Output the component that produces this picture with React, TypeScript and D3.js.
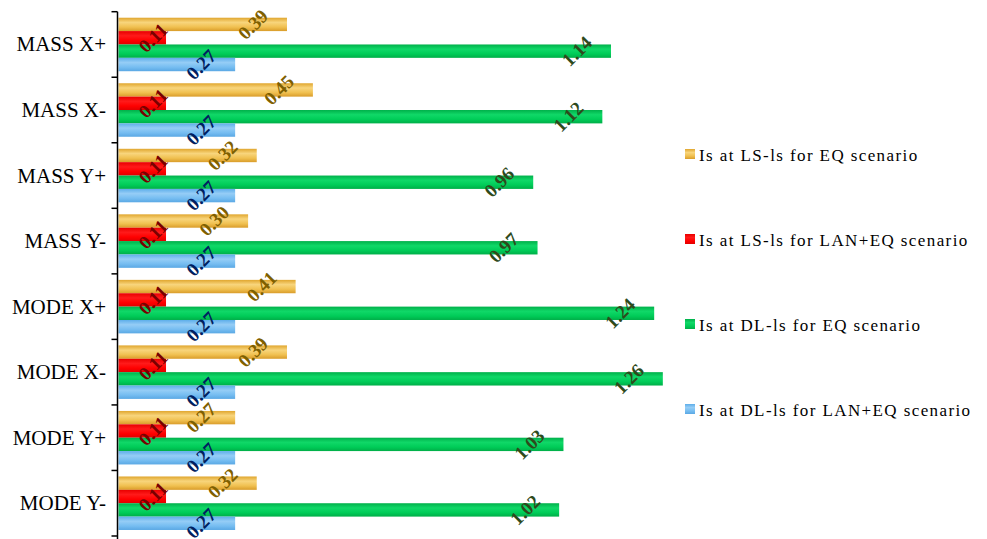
import React from "react";
import * as d3 from "d3";

const categories = ["MASS X+", "MASS X-", "MASS Y+", "MASS Y-", "MODE X+", "MODE X-", "MODE Y+", "MODE Y-"];
const seriesNames = [
  "Is at LS-ls for EQ scenario",
  "Is at LS-ls for LAN+EQ scenario",
  "Is at DL-ls for EQ scenario",
  "Is at DL-ls for LAN+EQ scenario",
];
const lsEQ = [0.39, 0.45, 0.32, 0.30, 0.41, 0.39, 0.27, 0.32];
const lsLanEQ = [0.11, 0.11, 0.11, 0.11, 0.11, 0.11, 0.11, 0.11];
const dlEQ = [1.14, 1.12, 0.96, 0.97, 1.24, 1.26, 1.03, 1.02];
const dlLanEQ = [0.27, 0.27, 0.27, 0.27, 0.27, 0.27, 0.27, 0.27];
const seriesValues = [lsEQ, lsLanEQ, dlEQ, dlLanEQ];

const styles = [
  { id: "gY", stops: ["#E0A62E", "#F8D57C", "#F0C050", "#D99C2A"], label: "#7F6000", off: 34 },
  { id: "gR", stops: ["#E80000", "#FF1A1A", "#FF0000", "#E00000"], label: "#7A0000", off: 13 },
  { id: "gG", stops: ["#00B04A", "#10D868", "#00CC58", "#00AE48"], label: "#2E4A1C", off: 34 },
  { id: "gB", stops: ["#5EAEEA", "#95CDF6", "#76BDF1", "#5AA8E4"], label: "#002060", off: 34 },
];

export default function App() {
  const W = 987, H = 539;
  const axisX = 117.5;
  const x = d3.scaleLinear().domain([0, 1.3]).range([118.5, 118.5 + 432 * 1.3]);
  const y0 = d3.scaleBand<string>().domain(categories).range([11.7, 536]).padding(0);
  const y1 = d3.scaleBand<string>().domain(seriesNames).range([0, y0.bandwidth()]).paddingInner(0).paddingOuter(0.45);
  const ticks = d3.range(categories.length + 1).map((i) => 11.7 + i * y0.step());
  const legendY = d3.scalePoint<string>().domain(seriesNames).range([155, 410]);
  const serif = "'Liberation Serif', 'Times New Roman', serif";

  return (
    <svg width={W} height={H} style={{ position: "absolute", left: 0, top: 0, background: "#fff" }}>
      <defs>
        {styles.map((s) => (
          <linearGradient key={s.id} id={s.id} x1="0" y1="0" x2="0" y2="1">
            <stop offset="0%" stopColor={s.stops[0]} />
            <stop offset="35%" stopColor={s.stops[1]} />
            <stop offset="70%" stopColor={s.stops[2]} />
            <stop offset="100%" stopColor={s.stops[3]} />
          </linearGradient>
        ))}
      </defs>
      {categories.map((c, ci) => (
        <g key={c} transform={`translate(0,${y0(c)})`}>
          {seriesNames.map((s, si) => (
            <rect
              key={s}
              x={x(0)}
              y={y1(s)}
              width={x(seriesValues[si][ci]) - x(0)}
              height={y1.bandwidth()}
              fill={`url(#${styles[si].id})`}
            />
          ))}
        </g>
      ))}
      <line x1={axisX} x2={axisX} y1={11.7} y2={H} stroke="#000" strokeWidth={1.5} />
      {ticks.map((t, i) => (
        <line key={i} x1={axisX - 6} x2={axisX} y1={t} y2={t} stroke="#000" strokeWidth={1.5} />
      ))}
      {categories.map((c) => (
        <text
          key={c}
          x={106}
          y={(y0(c) as number) + y0.bandwidth() / 2}
          textAnchor="end"
          dominantBaseline="central"
          fontFamily={serif}
          fontSize={21}
          fill="#000"
        >
          {c}
        </text>
      ))}
      {categories.map((c, ci) =>
        seriesNames.map((s, si) => {
          const v = seriesValues[si][ci];
          const cx = x(v) - styles[si].off;
          const cy = (y0(c) as number) + (y1(s) as number) + y1.bandwidth() / 2;
          return (
            <text
              key={c + s}
              transform={`translate(${cx},${cy}) rotate(-45)`}
              textAnchor="middle"
              dominantBaseline="central"
              fontFamily={serif}
              fontWeight="bold"
              fontSize={19}
              fill={styles[si].label}
            >
              {v.toFixed(2)}
            </text>
          );
        })
      )}
      {seriesNames.map((s, si) => (
        <g key={s} transform={`translate(685,${legendY(s)})`}>
          <rect x={0} y={-6} width={10} height={10} fill={`url(#${styles[si].id})`} />
          <text
            x={14}
            y={0}
            dominantBaseline="central"
            fontFamily={serif}
            fontSize={17}
            letterSpacing={1.4}
            fill="#000"
          >
            {s}
          </text>
        </g>
      ))}
    </svg>
  );
}
